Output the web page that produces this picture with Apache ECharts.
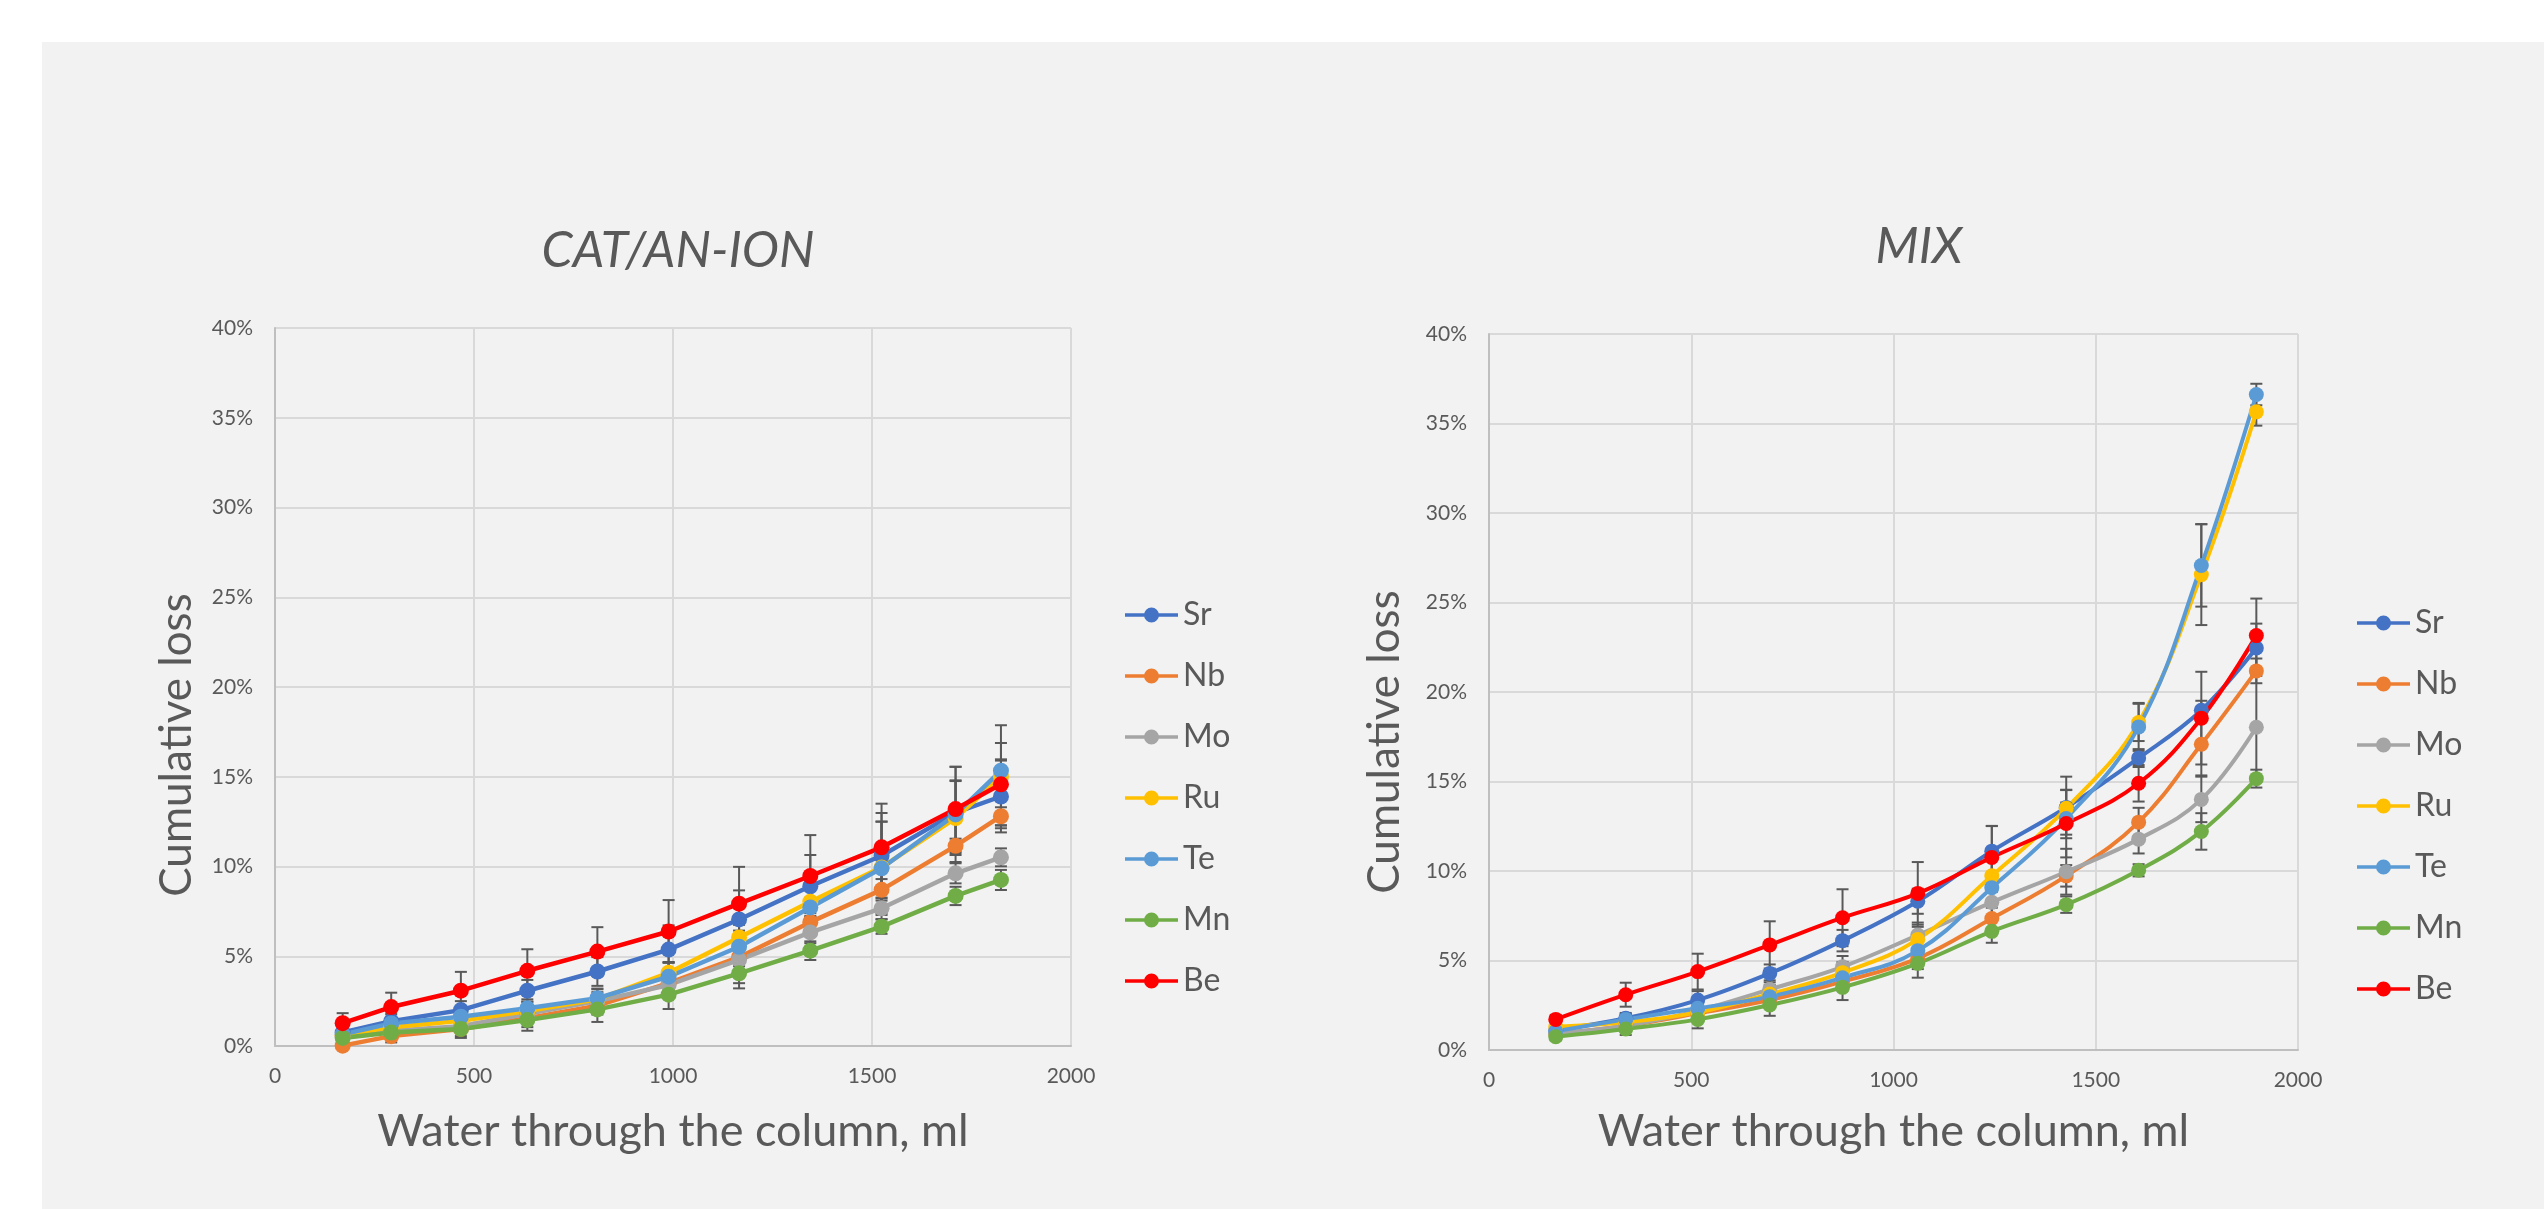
<!DOCTYPE html>
<html><head><meta charset="utf-8">
<script src="https://cdn.jsdelivr.net/npm/echarts/dist/echarts.min.js"></script>
<style>
html,body{margin:0;padding:0;background:#fff;width:2544px;height:1209px;overflow:hidden}
#panel{position:absolute;left:42px;top:42px;width:2502px;height:1167px;background:#f2f2f2}
#chart{position:absolute;left:0;top:0;width:2544px;height:1209px}
</style></head><body><div id="panel"></div><div id="chart"></div>
<script>
// ---- data ----
const elements = ['Sr', 'Nb', 'Mo', 'Ru', 'Te', 'Mn', 'Be'];
const colors = ['#4472C4', '#ED7D31', '#A5A5A5', '#FFC000', '#5B9BD5', '#70AD47', '#FF0000'];
const yTickLabels = ['0%', '5%', '10%', '15%', '20%', '25%', '30%', '35%', '40%'];
const xTickLabels = ['0', '500', '1000', '1500', '2000'];
const chartTitles = ['CAT/AN-ION', 'MIX'];
const xTitle = 'Water through the column, ml';
const yTitle = 'Cumulative loss';

// CAT/AN-ION chart
const catWater = [170, 292, 467, 634, 810, 989, 1166, 1345, 1524, 1710, 1824];
const catSr = [0.75, 1.38, 2.0, 3.08, 4.15, 5.37, 7.05, 8.9, 10.6, 13.0, 13.9];
const catNb = [0.02, 0.55, 0.95, 1.55, 2.25, 3.5, 4.95, 6.9, 8.7, 11.15, 12.8];
const catMo = [0.55, 0.85, 1.1, 1.8, 2.5, 3.4, 4.8, 6.33, 7.67, 9.62, 10.51];
const catRu = [0.6, 1.05, 1.4, 1.95, 2.6, 4.08, 6.05, 8.04, 9.95, 12.7, 15.0];
const catTe = [0.65, 1.26, 1.63, 2.1, 2.66, 3.86, 5.53, 7.72, 9.9, 12.9, 15.34];
const catMn = [0.45, 0.75, 0.95, 1.45, 2.04, 2.86, 4.05, 5.31, 6.65, 8.36, 9.25];
const catBe = [1.27, 2.17, 3.08, 4.19, 5.26, 6.38, 7.93, 9.47, 11.07, 13.2, 14.58];
const catErrSr = [0.3, 0.4, 0.5, 0.6, 0.8, 1.35, 1.62, 1.74, 2.38, 1.8, 2.0];
const catErrNb = [0.1, 0.35, 0.4, 0.5, 0.5, 0.5, 0.5, 0.5, 0.6, 0.4, 0.5];
const catErrMo = [0.2, 0.3, 0.3, 0.4, 0.5, 0.5, 1.3, 0.6, 0.6, 0.56, 0.5];
const catErrRu = [0.2, 0.3, 0.4, 0.5, 0.6, 0.6, 0.7, 0.8, 2.55, 2.06, 2.87];
const catErrTe = [0.2, 0.3, 0.4, 0.5, 0.5, 0.8, 0.9, 1.0, 2.6, 2.65, 0.63];
const catErrMn = [0.3, 0.4, 0.5, 0.6, 0.7, 0.8, 0.84, 0.52, 0.4, 0.51, 0.56];
const catErrBe = [0.56, 0.8, 1.05, 1.2, 1.36, 1.75, 2.05, 2.28, 2.43, 2.36, 2.3];

// MIX chart
const mixWater = [165, 338, 516, 694, 874, 1060, 1243, 1427, 1606, 1761, 1897];
const mixSr = [1.12, 1.77, 2.79, 4.28, 6.11, 8.31, 11.11, 13.55, 16.31, 18.98, 22.46];
const mixNb = [0.9, 1.35, 2.05, 2.79, 3.82, 5.12, 7.35, 9.73, 12.73, 17.08, 21.18];
const mixMo = [0.95, 1.35, 2.2, 3.39, 4.65, 6.42, 8.25, 9.96, 11.78, 14.0, 18.03];
const mixRu = [1.3, 1.55, 2.1, 3.13, 4.32, 6.18, 9.73, 13.5, 18.3, 26.56, 35.65];
const mixTe = [1.05, 1.71, 2.33, 2.98, 4.04, 5.55, 9.07, 12.93, 18.05, 27.07, 36.62];
const mixMn = [0.74, 1.17, 1.71, 2.51, 3.5, 4.84, 6.63, 8.12, 10.04, 12.21, 15.16];
const mixBe = [1.71, 3.09, 4.38, 5.87, 7.39, 8.75, 10.76, 12.65, 14.9, 18.54, 23.15];
const mixErrSr = [0.2, 0.3, 0.5, 0.5, 0.6, 0.7, 1.4, 1.72, 0.5, 0.53, 1.36];
const mixErrNb = [0.2, 0.3, 0.3, 0.4, 0.5, 0.6, 0.6, 0.6, 0.8, 1.74, 0.69];
const mixErrMo = [0.2, 0.3, 0.4, 0.5, 0.6, 0.7, 0.9, 1.28, 0.8, 1.27, 2.87];
const mixErrRu = [0.2, 0.3, 0.4, 0.5, 0.6, 0.7, 0.9, 1.02, 1.04, 2.82, 0.77];
const mixErrTe = [0.2, 0.3, 0.4, 0.5, 0.6, 0.7, 0.8, 0.9, 1.34, 2.3, 0.6];
const mixErrMn = [0.2, 0.33, 0.5, 0.6, 0.71, 0.8, 0.64, 0.46, 0.34, 1.02, 0.5];
const mixErrBe = [0.25, 0.67, 1.0, 1.32, 1.59, 1.75, 1.76, 1.89, 1.02, 2.59, 2.07];

const catValues = [catSr, catNb, catMo, catRu, catTe, catMn, catBe];
const catErrors = [catErrSr, catErrNb, catErrMo, catErrRu, catErrTe, catErrMn, catErrBe];
const mixValues = [mixSr, mixNb, mixMo, mixRu, mixTe, mixMn, mixBe];
const mixErrors = [mixErrSr, mixErrNb, mixErrMo, mixErrRu, mixErrTe, mixErrMn, mixErrBe];

// ---- chart ----
const FONT = 'Lato';
const TXT = '#595959';
const chart = echarts.init(document.getElementById('chart'), null, {renderer: 'canvas'});

function xAxisCfg(gi, gap) {
  return {
    type: 'value', gridIndex: gi, min: 0, max: 2000, interval: 500,
    axisLine: {show: true, lineStyle: {color: '#bfbfbf', width: 2}},
    axisTick: {show: false},
    splitLine: {show: true, lineStyle: {color: '#d9d9d9', width: 2}},
    axisLabel: {color: TXT, fontFamily: FONT, fontSize: 21, margin: 20,
      formatter: v => xTickLabels[Math.round(v / 500)]},
    name: xTitle, nameLocation: 'middle', nameGap: gap,
    nameTextStyle: {color: TXT, fontFamily: FONT, fontSize: 45}
  };
}
function yAxisCfg(gi) {
  return {
    type: 'value', gridIndex: gi, min: 0, max: 40, interval: 5,
    axisLine: {show: true, lineStyle: {color: '#bfbfbf', width: 2}},
    axisTick: {show: false},
    splitLine: {show: true, lineStyle: {color: '#d9d9d9', width: 2}},
    axisLabel: {color: TXT, fontFamily: FONT, fontSize: 21, margin: 22,
      formatter: v => yTickLabels[Math.round(v / 5)]}
  };
}

function errorSeries(gi, xs, vals, errs) {
  const data = [];
  vals.forEach((arr, si) => {
    arr.forEach((v, i) => data.push([xs[i], v - errs[si][i], v + errs[si][i]]));
  });
  return {
    type: 'custom', name: 'err' + gi, xAxisIndex: gi, yAxisIndex: gi, z: 1,
    silent: true, data: data, encode: {x: 0, y: [1, 2]},
    renderItem: function (params, api) {
      const lo = api.coord([api.value(0), api.value(1)]);
      const hi = api.coord([api.value(0), api.value(2)]);
      const w = 6;
      const st = {stroke: '#595959', lineWidth: 2};
      return {type: 'group', children: [
        {type: 'line', shape: {x1: lo[0], y1: lo[1], x2: hi[0], y2: hi[1]}, style: st},
        {type: 'line', shape: {x1: hi[0] - w, y1: hi[1], x2: hi[0] + w, y2: hi[1]}, style: st},
        {type: 'line', shape: {x1: lo[0] - w, y1: lo[1], x2: lo[0] + w, y2: lo[1]}, style: st}
      ]};
    }
  };
}

function lineSeries(gi, xs, vals, width, size, smooth) {
  return elements.map((name, si) => ({
    type: 'line', name: name, xAxisIndex: gi, yAxisIndex: gi, z: 3,
    data: xs.map((x, i) => [x, vals[si][i]]),
    smooth: smooth, symbol: 'circle', symbolSize: size,
    lineStyle: {color: colors[si], width: width},
    itemStyle: {color: colors[si]},
    emphasis: {disabled: true}, animation: false
  }));
}

const legendIcon = 'path://M0,5.8L53,5.8L53,9.2L0,9.2Z M19,7.5A7.5,7.5,0,1,1,34,7.5A7.5,7.5,0,1,1,19,7.5Z';
function legendCfg(left, top) {
  return {
    data: elements, orient: 'vertical', left: left, top: top,
    icon: legendIcon,
    itemWidth: 53, itemHeight: 15, itemGap: 29,
    textStyle: {color: TXT, fontFamily: FONT, fontSize: 32, lineHeight: 32},
    selectedMode: false
  };
}

function textEl(txt, x, y, size, italic, rot) {
  return {type: 'text', x: x, y: y, rotation: rot || 0, silent: true,
    style: {text: txt, fill: TXT,
      font: (italic ? 'italic ' : '') + size + 'px Lato',
      align: 'center', verticalAlign: 'middle',
      textAlign: 'center', textVerticalAlign: 'middle'}};
}

const option = {
  animation: false,
  backgroundColor: 'transparent',
  grid: [
    {left: 275, top: 328, width: 796, height: 718},
    {left: 1489, top: 334, width: 809, height: 716}
  ],
  xAxis: [xAxisCfg(0, 63), xAxisCfg(1, 59)],
  yAxis: [yAxisCfg(0), yAxisCfg(1)],
  legend: [legendCfg(1120, 594), legendCfg(2352, 602)],
  graphic: [
    textEl(chartTitles[0], 678, 251, 50, true),
    textEl(chartTitles[1], 1919, 247, 50, true),
    textEl(yTitle, 177, 745, 44, false, Math.PI / 2),
    textEl(yTitle, 1385, 742, 44, false, Math.PI / 2)
  ],
  series: [
    errorSeries(0, catWater, catValues, catErrors),
    errorSeries(1, mixWater, mixValues, mixErrors),
    ...lineSeries(0, catWater, catValues, 4.5, 16, false),
    ...lineSeries(1, mixWater, mixValues, 4, 15, 0.4)
  ]
};
chart.setOption(option);
</script></body></html>
